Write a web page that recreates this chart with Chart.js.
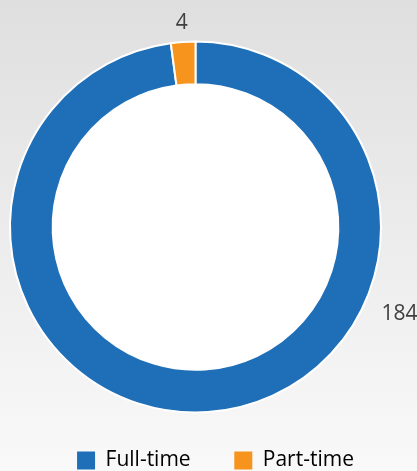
<!DOCTYPE html>
<html>
<head>
<meta charset="utf-8">
<script src="https://cdn.jsdelivr.net/npm/chart.js@4"></script>
<style>
  html, body { margin: 0; padding: 0; }
  body {
    width: 417px; height: 471px; overflow: hidden;
    background: linear-gradient(#dfdfdf, #ececec 50%, #f9f9f9);
  }
  #wrap { width: 417px; height: 471px; position: relative; }
</style>
</head>
<body>
<div id="wrap"><canvas id="graph"></canvas></div>
<script>
const labels = ['Full-time', 'Part-time']
const counts = [184, 4]
const colors = ['#1f6fb8', '#f7941d']

// white hole in the middle of the ring
const holeFill = {
    id: 'holeFill',
    beforeDatasetsDraw(chart) {
        const arc = chart.getDatasetMeta(0).data[0]
        if (!arc) return
        const p = arc.getProps(['x', 'y', 'innerRadius'], true)
        const ctx = chart.ctx
        ctx.save()
        ctx.fillStyle = '#ffffff'
        ctx.beginPath()
        ctx.arc(p.x, p.y, p.innerRadius, 0, Math.PI * 2)
        ctx.fill()
        ctx.restore()
    }
}

// move the legend a bit lower / right, like the original
const legendShift = {
    id: 'legendShift',
    afterLayout(chart, args, opts) {
        const lg = chart.legend
        lg.left += opts.dx; lg.right += opts.dx
        lg.top += opts.dy; lg.bottom += opts.dy
    }
}

// draws the value next to each slice, outside the ring
const outsideLabels = {
    id: 'outsideLabels',
    afterDatasetsDraw(chart, args, opts) {
        const ctx = chart.ctx
        const meta = chart.getDatasetMeta(0)
        ctx.save()
        ctx.font = '21px "Open Sans", sans-serif'
        ctx.fillStyle = '#404040'
        ctx.textAlign = 'center'
        ctx.textBaseline = 'middle'
        meta.data.forEach((arc, i) => {
            const p = arc.getProps(['x', 'y', 'startAngle', 'endAngle', 'outerRadius'], true)
            let a = (p.startAngle + p.endAngle) / 2
            if (opts.angles[i] != null) a = opts.angles[i] * Math.PI / 180 - Math.PI / 2
            const r = p.outerRadius + opts.offsets[i]
            ctx.fillText(counts[i], p.x + Math.cos(a) * r, p.y + Math.sin(a) * r)
        })
        ctx.restore()
    }
}

const graph = new Chart(document.getElementById('graph'), {
    type: 'doughnut',
    data: {
        labels,
        datasets: [{
            data: counts,
            backgroundColor: colors,
            borderColor: '#ffffff',
            borderWidth: 2
        }]
    },
    options: {
        responsive: true,
        maintainAspectRatio: false,
        animation: false,
        cutout: '77%',
        layout: { padding: { top: 14, left: 9, right: 35, bottom: 0 } },
        plugins: {
            tooltip: { enabled: false },
            legend: {
                position: 'bottom',
                labels: {
                    boxWidth: 18,
                    boxHeight: 18,
                    padding: 0,
                    color: '#404040',
                    font: { size: 21, family: '"Open Sans", sans-serif' },
                    generateLabels(chart) {
                        return labels.map((l, i) => ({
                            text: i === 0 ? l + '        ' : l,
                            fillStyle: colors[i],
                            strokeStyle: colors[i],
                            lineWidth: 0,
                            index: i
                        }))
                    }
                }
            },
            legendShift: { dx: 20, dy: 10 },
            outsideLabels: { angles: [113, null], offsets: [36, 19] }
        }
    },
    plugins: [holeFill, legendShift, outsideLabels]
})
</script>
</body>
</html>
